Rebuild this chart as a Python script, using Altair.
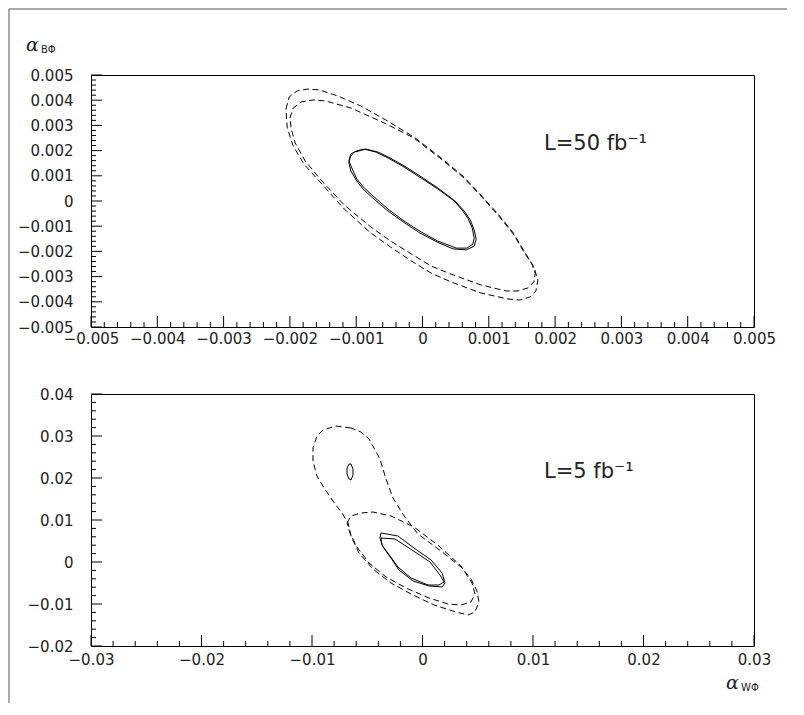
import altair as alt
import pandas as pd

# ---------------- top panel (L = 50 fb^-1) ----------------
top_a_x = [-0.00206, -0.00201, -0.00189, -0.00174, -0.00156, -0.00128, -0.00093, -0.00055, -0.00013, 0.00028,
           0.00061, 0.00088, 0.00114, 0.00137, 0.00155, 0.00168, 0.00174, 0.00171, 0.00162, 0.00147,
           0.00129, 0.00088, 0.00043, 0.00013, -0.00017, -0.00048, -0.00078, -0.00118, -0.00153, -0.00179,
           -0.00195, -0.00204]
top_a_y = [0.00365, 0.00413, 0.00437, 0.00444, 0.00441, 0.00417, 0.00377, 0.00321, 0.00254, 0.00171,
           0.00099, 0.00024, -0.00052, -0.00127, -0.00206, -0.00262, -0.00314, -0.00357, -0.00381, -0.00393,
           -0.00389, -0.00365, -0.00321, -0.00286, -0.00238, -0.00183, -0.00127, -0.00032, 0.00071, 0.00147,
           0.00218, 0.00290]

top_b_x = [-0.00200, -0.00195, -0.00183, -0.00165, -0.00146, -0.00108, -0.00058, -0.00013, 0.00028, 0.00061,
           0.00088, 0.00114, 0.00137, 0.00153, 0.00165, 0.00170, 0.00168, 0.00159, 0.00144, 0.00126,
           0.00088, 0.00043, 0.00013, -0.00017, -0.00048, -0.00078, -0.00118, -0.00153, -0.00177, -0.00192,
           -0.00198]
top_b_y = [0.00329, 0.00369, 0.00393, 0.00401, 0.00397, 0.00369, 0.00310, 0.00250, 0.00167, 0.00095,
           0.00020, -0.00056, -0.00131, -0.00202, -0.00250, -0.00286, -0.00321, -0.00345, -0.00357, -0.00357,
           -0.00333, -0.00290, -0.00258, -0.00210, -0.00159, -0.00103, -0.00016, 0.00083, 0.00159, 0.00230,
           0.00286]

top_s1_x = [-0.00111, -0.00108, -0.00100, -0.00088, -0.00070, -0.00052, -0.00028, -0.00002, 0.00023, 0.00048,
            0.00061, 0.00069, 0.00075, 0.00078, 0.00076, 0.00067, 0.00051, 0.00023, -0.00002, -0.00028,
            -0.00052, -0.00073, -0.00088, -0.00099, -0.00106]
top_s1_y = [0.00159, 0.00187, 0.00198, 0.00206, 0.00194, 0.00171, 0.00135, 0.00091, 0.00048, 0.0,
            -0.00040, -0.00071, -0.00107, -0.00147, -0.00171, -0.00187, -0.00187, -0.00159, -0.00123, -0.00079,
            -0.00032, 0.00016, 0.00052, 0.00087, 0.00127]

top_s2_x = [-0.00111, -0.00109, -0.00103, -0.00085, -0.00067, -0.00049, -0.00025, 0.00001, 0.00025, 0.00049,
            0.00063, 0.00072, 0.00078, 0.00081, 0.00078, 0.00066, 0.00046, 0.00022, -0.00004, -0.00029,
            -0.00054, -0.00075, -0.00090, -0.00100, -0.00108]
top_s2_y = [0.00151, 0.00175, 0.00194, 0.00206, 0.00194, 0.00171, 0.00135, 0.00091, 0.00048, 0.0,
            -0.00040, -0.00075, -0.00115, -0.00151, -0.00179, -0.00194, -0.00190, -0.00163, -0.00127, -0.00083,
            -0.00036, 0.00012, 0.00048, 0.00083, 0.00119]

# ---------------- bottom panel (L = 5 fb^-1) ----------------
bot_c_x = [-0.00647, -0.00783, -0.00901, -0.00955, -0.00991, -0.00991, -0.00955, -0.00891, -0.00810, -0.00729,
           -0.00674, -0.00647, -0.00575, -0.00448, -0.00285, -0.00104, 0.00104, 0.00303, 0.00412, 0.00475,
           0.00511, 0.00493, 0.00439, 0.00348, 0.00167, -0.00041, -0.00167, -0.00267, -0.00330, -0.00385,
           -0.00484, -0.00557]
bot_c_y = [0.03190, 0.03238, 0.03143, 0.03000, 0.02714, 0.02405, 0.02048, 0.01762, 0.01452, 0.01167,
           0.00929, 0.00619, 0.00214, -0.00167, -0.00500, -0.00762, -0.01024, -0.01190, -0.01262, -0.01190,
           -0.00952, -0.00690, -0.00405, -0.00119, 0.00262, 0.00667, 0.01095, 0.01524, 0.01976, 0.02452,
           0.02929, 0.03095]

bot_d_x = [-0.00683, -0.00647, -0.00557, -0.00448, -0.00285, -0.00077, 0.00149, 0.00348, 0.00448, 0.00475,
           0.00439, 0.00348, 0.00231, 0.00059, -0.00149, -0.00330, -0.00484, -0.00593, -0.00656]
bot_d_y = [0.00929, 0.01095, 0.01167, 0.01190, 0.01095, 0.00833, 0.00381, -0.00095, -0.00500, -0.00762,
           -0.00952, -0.01024, -0.01000, -0.00857, -0.00619, -0.00357, -0.00024, 0.00357, 0.00690]

bot_e_x = [-0.00665, -0.00647, -0.00629, -0.00629, -0.00647, -0.00665, -0.00683, -0.00683]
bot_e_y = [0.02333, 0.02333, 0.02214, 0.02071, 0.01952, 0.01976, 0.02095, 0.02238]

bot_s3_x = [-0.00376, -0.00222, -0.00077, 0.00077, 0.00177, 0.00204, 0.00177, 0.00059, -0.00086, -0.00213,
            -0.00285, -0.00358, -0.00385]
bot_s3_y = [0.00691, 0.00619, 0.00333, 0.00048, -0.00262, -0.00500, -0.00595, -0.00571, -0.00452, -0.00191,
            0.00095, 0.00357, 0.00571]

bot_s4_x = [-0.00376, -0.00249, -0.00095, 0.00068, 0.00158, 0.00195, 0.00149, 0.00050, -0.00104, -0.00222,
            -0.00294, -0.00367]
bot_s4_y = [0.00571, 0.00548, 0.00286, 0.0, -0.00310, -0.00476, -0.00548, -0.00548, -0.00381, -0.00119,
            0.00143, 0.00405]

# ---------------- axes ----------------
top_x_ticks = [-0.005, -0.004, -0.003, -0.002, -0.001, 0.0, 0.001, 0.002, 0.003, 0.004, 0.005]
top_y_ticks = [-0.005, -0.004, -0.003, -0.002, -0.001, 0.0, 0.001, 0.002, 0.003, 0.004, 0.005]
bot_x_ticks = [-0.03, -0.02, -0.01, 0.0, 0.01, 0.02, 0.03]
bot_y_ticks = [-0.02, -0.01, 0.0, 0.01, 0.02, 0.03, 0.04]
SUBDIV = 5

top_label = "L=50 fb⁻¹"
bot_label = "L=5 fb⁻¹"
y_title_main, y_title_sub = "α", "BΦ"
x_title_main, x_title_sub = "α", "WΦ"

W, H = 663, 252
FONT = "DejaVu Sans"
INK = "#222222"


def minor(ticks):
    out = []
    for a, b in zip(ticks[:-1], ticks[1:]):
        for k in range(1, SUBDIV):
            out.append(a + (b - a) * k / SUBDIV)
    return out


def curves_df(curves):
    rows = []
    for name, xs, ys in curves:
        pts = list(zip(xs, ys)) + [(xs[0], ys[0])]
        for i, (x, y) in enumerate(pts):
            rows.append({"curve": name, "i": i, "x": x, "y": y})
    return pd.DataFrame(rows)


def panel(dashed, solid, xdom, ydom, xt, yt, fmt, label, label_y, xpad, extras):
    xs = alt.Scale(domain=xdom, nice=False, zero=False)
    ys = alt.Scale(domain=ydom, nice=False, zero=False)
    expr = f"datum.value == 0 ? '0' : format(datum.value, '{fmt}')"
    xaxis = alt.Axis(values=xt, labelExpr=expr, ticks=False, tickSize=0, domain=False, grid=False,
                     title=None, labelPadding=xpad, labelFlush=False, labelOverlap=False)
    yaxis = alt.Axis(values=yt, labelExpr=expr, ticks=False, tickSize=0, domain=False, grid=False,
                     title=None, labelPadding=18, labelOverlap=False)

    dashed_layer = alt.Chart(curves_df(dashed)).mark_line(
        color="black", strokeWidth=1, strokeDash=[6, 3.5]
    ).encode(x=alt.X("x:Q", scale=xs, axis=xaxis), y=alt.Y("y:Q", scale=ys, axis=yaxis),
             detail="curve:N", order="i:Q")
    solid_layer = alt.Chart(curves_df(solid)).mark_line(color="black", strokeWidth=1).encode(
        x=alt.X("x:Q", scale=xs, axis=xaxis), y=alt.Y("y:Q", scale=ys, axis=yaxis),
        detail="curve:N", order="i:Q")

    def xticks(vals, length):
        return alt.Chart(pd.DataFrame({"x": vals})).mark_rule(color="black", strokeWidth=1).encode(
            x=alt.X("x:Q", scale=xs, axis=xaxis), y=alt.value(H), y2=alt.value(H - length))

    def yticks(vals, length):
        return alt.Chart(pd.DataFrame({"y": vals})).mark_rule(color="black", strokeWidth=1).encode(
            y=alt.Y("y:Q", scale=ys, axis=yaxis), x=alt.value(0), x2=alt.value(length))

    txt = alt.Chart(pd.DataFrame({"t": [label]})).mark_text(
        align="left", baseline="alphabetic", font=FONT, fontSize=21, color=INK
    ).encode(text="t:N", x=alt.value(453), y=alt.value(label_y))

    layers = [dashed_layer, solid_layer,
              xticks(xt, 11), xticks(minor(xt), 5),
              yticks(yt, 11), yticks(minor(yt), 5), txt] + extras
    return alt.layer(*layers).properties(width=W, height=H)


def title_marks(main, sub, x, y):
    m = alt.Chart(pd.DataFrame({"t": [main]})).mark_text(
        align="left", baseline="alphabetic", font="DejaVu Serif", fontStyle="italic",
        fontSize=19, color=INK).encode(text="t:N", x=alt.value(x), y=alt.value(y))
    s = alt.Chart(pd.DataFrame({"t": [sub]})).mark_text(
        align="left", baseline="alphabetic", font=FONT, fontSize=10, color=INK).encode(
        text="t:N", x=alt.value(x + 15), y=alt.value(y + 2))
    return [m, s]


frame = [
    alt.Chart(pd.DataFrame({"k": [0]})).mark_rule(color="#555555", strokeWidth=1).encode(
        x=alt.value(-82), y=alt.value(-66), y2=alt.value(628)),
    alt.Chart(pd.DataFrame({"k": [0]})).mark_rule(color="#555555", strokeWidth=1).encode(
        x=alt.value(-82), x2=alt.value(696), y=alt.value(-66)),
]

top = panel(
    dashed=[("A", top_a_x, top_a_y), ("B", top_b_x, top_b_y)],
    solid=[("S1", top_s1_x, top_s1_y), ("S2", top_s2_x, top_s2_y)],
    xdom=[-0.005, 0.005], ydom=[-0.005, 0.005], xt=top_x_ticks, yt=top_y_ticks, fmt=".3f",
    label=top_label, label_y=75, xpad=4,
    extras=title_marks(y_title_main, y_title_sub, -65, -24) + frame,
)

bottom = panel(
    dashed=[("C", bot_c_x, bot_c_y), ("D", bot_d_x, bot_d_y)],
    solid=[("E", bot_e_x, bot_e_y), ("S3", bot_s3_x, bot_s3_y), ("S4", bot_s4_x, bot_s4_y)],
    xdom=[-0.03, 0.03], ydom=[-0.02, 0.04], xt=bot_x_ticks, yt=bot_y_ticks, fmt=".2f",
    label=bot_label, label_y=84, xpad=6,
    extras=title_marks(x_title_main, x_title_sub, 635, 295),
)

chart = alt.vconcat(top, bottom, spacing=67, bounds="flush").properties(
    padding={"left": 0, "top": 0, "right": 0, "bottom": 0},
    background="white",
).configure_view(stroke="black", strokeWidth=1).configure_axis(
    labelFont=FONT, labelFontSize=15, labelColor=INK
)

chart.save("out.html", embed_options={"renderer": "svg", "actions": False})
